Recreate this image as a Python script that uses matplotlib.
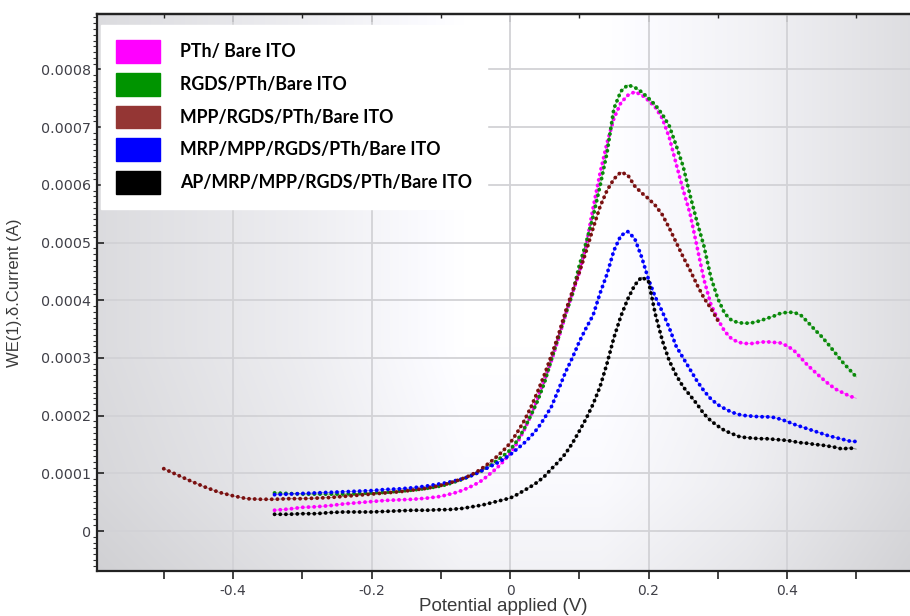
import numpy as np
import matplotlib
matplotlib.use("Agg")
import matplotlib.pyplot as plt
from matplotlib.patches import Patch
from matplotlib.ticker import MultipleLocator, FuncFormatter

# currents in units of 1e-4 A
SCALE = 1e-4

potential = [
    -0.34, -0.32, -0.30, -0.28, -0.26, -0.24, -0.22, -0.20, -0.18, -0.16, -0.14, -0.12, -0.10,
    -0.09, -0.08, -0.07, -0.06, -0.05, -0.04, -0.03, -0.02, -0.01,
    0.00, 0.01, 0.02, 0.03, 0.04, 0.05, 0.06, 0.07, 0.08, 0.09,
    0.10, 0.11, 0.12, 0.13, 0.14, 0.15, 0.16, 0.17, 0.18, 0.19,
    0.20, 0.21, 0.22, 0.23, 0.24, 0.25, 0.26, 0.27, 0.28, 0.29,
    0.30, 0.31, 0.32, 0.33, 0.34, 0.35, 0.36, 0.37, 0.38, 0.39,
    0.40, 0.41, 0.42, 0.43, 0.44, 0.45, 0.46, 0.47, 0.48, 0.49, 0.50,
]

pth = [
    0.36, 0.38, 0.41, 0.42, 0.44, 0.47, 0.49, 0.51, 0.53, 0.54, 0.55, 0.57, 0.60,
    0.63, 0.66, 0.70, 0.75, 0.81, 0.88, 0.98, 1.08, 1.20,
    1.34, 1.52, 1.74, 2.00, 2.30, 2.62, 2.96, 3.34, 3.74, 4.12,
    4.48, 4.95, 5.60, 6.20, 6.72, 7.15, 7.42, 7.55, 7.61, 7.56,
    7.46, 7.34, 7.15, 6.82, 6.36, 5.91, 5.50, 4.93, 4.36, 3.93,
    3.67, 3.46, 3.33, 3.27, 3.25, 3.25, 3.27, 3.28, 3.27, 3.26,
    3.21, 3.13, 3.00, 2.87, 2.76, 2.65, 2.55, 2.46, 2.40, 2.34, 2.30,
]

rgds = [
    0.66, 0.65, 0.64, 0.64, 0.64, 0.64, 0.65, 0.66, 0.67, 0.69, 0.71, 0.74, 0.78,
    0.81, 0.85, 0.89, 0.94, 0.99, 1.05, 1.12, 1.21, 1.30,
    1.40, 1.56, 1.76, 2.00, 2.26, 2.58, 2.98, 3.36, 3.75, 4.10,
    4.60, 5.00, 5.45, 5.98, 6.55, 7.32, 7.62, 7.73, 7.69, 7.61,
    7.50, 7.38, 7.22, 7.02, 6.68, 6.32, 5.82, 5.36, 4.94, 4.40,
    4.03, 3.77, 3.65, 3.61, 3.60, 3.61, 3.64, 3.68, 3.72, 3.77,
    3.79, 3.79, 3.74, 3.62, 3.49, 3.37, 3.23, 3.08, 2.93, 2.80, 2.67,
]

mrp = [
    0.63, 0.64, 0.65, 0.66, 0.67, 0.68, 0.69, 0.70, 0.72, 0.73, 0.75, 0.78, 0.82,
    0.84, 0.87, 0.90, 0.94, 0.99, 1.05, 1.11, 1.17, 1.24,
    1.32, 1.42, 1.52, 1.64, 1.78, 1.96, 2.16, 2.45, 2.75, 3.00,
    3.28, 3.52, 3.74, 4.12, 4.45, 4.86, 5.12, 5.19, 5.07, 4.75,
    4.36, 4.05, 3.80, 3.52, 3.20, 3.00, 2.80, 2.60, 2.43, 2.29,
    2.19, 2.12, 2.06, 2.02, 2.00, 1.99, 1.98, 1.98, 1.97, 1.94,
    1.90, 1.85, 1.81, 1.77, 1.73, 1.69, 1.65, 1.62, 1.59, 1.56, 1.55,
]

ap = [
    0.29, 0.29, 0.30, 0.30, 0.32, 0.33, 0.33, 0.33, 0.34, 0.35, 0.36, 0.36, 0.37,
    0.37, 0.38, 0.39, 0.41, 0.43, 0.45, 0.48, 0.51, 0.54,
    0.57, 0.63, 0.70, 0.77, 0.85, 0.95, 1.08, 1.20, 1.34, 1.52,
    1.73, 1.95, 2.20, 2.50, 2.90, 3.35, 3.72, 4.02, 4.26, 4.40,
    4.33, 3.75, 3.30, 2.95, 2.70, 2.50, 2.35, 2.20, 2.03, 1.91,
    1.82, 1.74, 1.69, 1.64, 1.62, 1.61, 1.60, 1.60, 1.59, 1.58,
    1.57, 1.55, 1.53, 1.52, 1.50, 1.49, 1.47, 1.45, 1.42, 1.44, 1.42,
]

# the MPP scan runs over its own potential window
potential_mpp = [
    -0.50, -0.48, -0.46, -0.44, -0.42, -0.40, -0.38, -0.36, -0.34, -0.32, -0.30,
    -0.28, -0.26, -0.24, -0.22, -0.20, -0.18, -0.16, -0.14, -0.12, -0.10,
    -0.09, -0.08, -0.07, -0.06, -0.05, -0.04, -0.03, -0.02, -0.01,
    0.00, 0.01, 0.02, 0.03, 0.04, 0.05, 0.06, 0.07, 0.08, 0.09,
    0.10, 0.11, 0.12, 0.13, 0.14, 0.15, 0.16, 0.17, 0.18, 0.19,
    0.20, 0.21, 0.22, 0.23, 0.24, 0.25, 0.26, 0.27, 0.28, 0.29, 0.30,
]

mpp = [
    1.08, 0.97, 0.86, 0.76, 0.67, 0.61, 0.56, 0.55, 0.55, 0.56, 0.56,
    0.57, 0.58, 0.60, 0.62, 0.64, 0.66, 0.68, 0.71, 0.74, 0.79,
    0.82, 0.86, 0.90, 0.95, 1.01, 1.09, 1.18, 1.28, 1.39,
    1.52, 1.70, 1.90, 2.14, 2.42, 2.72, 3.05, 3.40, 3.80, 4.15,
    4.48, 4.85, 5.25, 5.62, 5.90, 6.10, 6.22, 6.17, 5.98, 5.86,
    5.76, 5.64, 5.48, 5.25, 5.00, 4.75, 4.52, 4.27, 4.04, 3.86, 3.65,
]

labels = [
    "PTh/ Bare ITO",
    "RGDS/PTh/Bare ITO",
    "MPP/RGDS/PTh/Bare ITO",
    "MRP/MPP/RGDS/PTh/Bare ITO",
    "AP/MRP/MPP/RGDS/PTh/Bare ITO",
]
line_colors = ["#ff00ff", "#0a8a0a", "#7a1010", "#0000ff", "#000000"]
legend_colors = ["#ff00ff", "#009400", "#943634", "#0000ff", "#000000"]


def draw_scan(ax, v, current, color, z):
    # the instrument plots every sample as a dot
    y = np.array(current) * SCALE
    ax.plot(v, y, color=color, lw=0.5, alpha=0.6, zorder=z)
    ax.plot(v, y, color=color, lw=2.8, linestyle=(0, (0.01, 1.45)),
            dash_capstyle="round", zorder=z)


fig = plt.figure(figsize=(9.1, 6.16), dpi=100)
ax = fig.add_axes([97 / 910, 45 / 616, 813 / 910, 557 / 616])
ax.set_xlim(-0.5964, 0.5776)
ax.set_ylim(-0.693e-4, 8.96e-4)

# grey-white-grey backdrop like the instrument software
xs = np.linspace(0, 1, 400)
ys = np.linspace(0, 1, 200)
shade_x = np.interp(xs, [0.0, 0.25, 0.45, 0.62, 0.8, 1.0], [0.86, 0.93, 1.0, 1.0, 0.95, 0.87])
shade_y = np.interp(ys, [0.0, 0.15, 0.4, 1.0], [0.95, 0.98, 1.0, 1.0])
shade = np.outer(shade_y, shade_x)
rgb = np.dstack([shade, shade, np.minimum(shade * 1.015, 1.0)])
ax.imshow(rgb, extent=[0, 1, 0, 1], transform=ax.transAxes, origin="lower",
          aspect="auto", zorder=0, interpolation="bilinear")

ax.grid(True, which="major", color="#d2d2d6", lw=1.3, zorder=1)
ax.set_axisbelow(True)

draw_scan(ax, potential, pth, line_colors[0], 3)
draw_scan(ax, potential, rgds, line_colors[1], 4)
draw_scan(ax, potential, mrp, line_colors[3], 5)
draw_scan(ax, potential_mpp, mpp, line_colors[2], 6)
draw_scan(ax, potential, ap, line_colors[4], 7)

ax.xaxis.set_major_locator(MultipleLocator(0.2))
ax.xaxis.set_minor_locator(MultipleLocator(0.1))
ax.yaxis.set_major_locator(MultipleLocator(1e-4))
ax.yaxis.set_minor_locator(MultipleLocator(1e-5))
ax.xaxis.set_major_formatter(FuncFormatter(lambda v, _: "0" if abs(v) < 1e-9 else f"{round(v, 1):g}"))
ax.yaxis.set_major_formatter(FuncFormatter(lambda v, _: "0" if abs(v) < 1e-12 else f"{v:.4f}"))

ax.tick_params(axis="x", which="both", direction="out", length=6, width=1.2,
               color="#222222", labelcolor="#404048", labelsize=10, pad=3.5)
ax.tick_params(axis="y", which="major", direction="in", length=5, width=1.2,
               color="#222222", labelcolor="#404048", labelsize=10.3, pad=4)
ax.tick_params(axis="y", which="minor", direction="out", length=3, width=0.8, color="#333333")
for lab in ax.get_xticklabels() + ax.get_yticklabels():
    lab.set_fontfamily("DejaVu Sans")

top = ax.secondary_xaxis("top")
top.xaxis.set_major_locator(MultipleLocator(0.2))
top.xaxis.set_minor_locator(MultipleLocator(0.1))
top.tick_params(which="major", direction="in", length=6, width=1.2, labeltop=False, color="#222222")
top.tick_params(which="minor", direction="in", length=3, width=1.0, labeltop=False, color="#222222")
top.spines["top"].set_linewidth(1.6)
top.spines["top"].set_color("#222222")

for side in ("left", "bottom", "top"):
    ax.spines[side].set_color("#222222")
    ax.spines[side].set_linewidth(1.6)
ax.spines["right"].set_visible(False)

ax.set_xlabel("Potential applied (V)", family="Liberation Sans", size=13.5,
              color="#3a3a3a", labelpad=0)
ax.set_ylabel("WE(1).\u03b4.Current (A)", family="Liberation Sans", size=12,
              color="#3a3a3a", labelpad=14)

handles = [Patch(facecolor=c, edgecolor=c) for c in legend_colors]
leg = ax.legend(handles=handles, labels=labels, loc="upper left",
                bbox_to_anchor=(0.005, 0.980), borderaxespad=0, frameon=True,
                fancybox=False, framealpha=1, facecolor="white", edgecolor="white",
                prop={"family": "Lato", "weight": "bold", "size": 12.75},
                handlelength=2.45, handleheight=1.6, handletextpad=1.15,
                labelspacing=0.56, borderpad=0.85)
leg.set_zorder(10)

fig.savefig("out.png", dpi=100)
